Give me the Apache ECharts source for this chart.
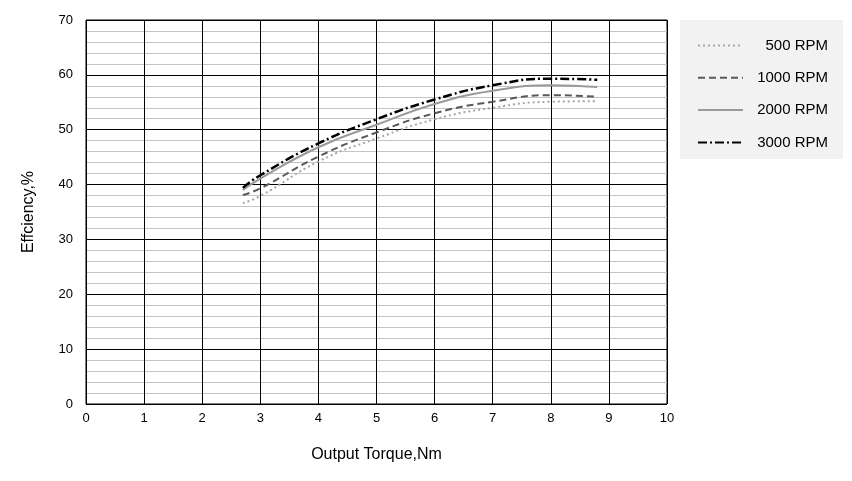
<!DOCTYPE html>
<html><head><meta charset="utf-8">
<script src="https://cdn.jsdelivr.net/npm/echarts@6/dist/echarts.min.js"></script>
<style>html,body{margin:0;padding:0;background:#fff}#c{width:852px;height:481px}</style>
</head><body><div id="c"></div>
<script>
var torque = [2.7, 3, 4, 5, 6, 7, 8, 8.8];
var rpm500 = [36.6, 37.9, 44.2, 48.4, 51.9, 54.0, 55.1, 55.2];
var rpm1000 = [38.1, 39.3, 45.1, 49.5, 53.0, 55.1, 56.3, 56.0];
var rpm2000 = [39.0, 41.1, 46.8, 50.9, 54.7, 57.1, 58.1, 57.8];
var rpm3000 = [39.4, 41.7, 47.5, 51.9, 55.5, 58.1, 59.3, 59.1];
var seriesNames = ['500 RPM', '1000 RPM', '2000 RPM', '3000 RPM'];

function pairs(ys){ return torque.map(function(x,i){ return [x, ys[i]]; }); }

var chart = echarts.init(document.getElementById('c'));
var font = 'Liberation Sans, Arial, sans-serif';
chart.setOption({
  animation: false,
  textStyle: {fontFamily: font},
  grid: {left: 86, top: 20, width: 581, height: 384, show: true, borderColor: '#000', borderWidth: 1},
  legend: {
    orient: 'vertical', left: 680, top: 20,
    backgroundColor: '#f2f2f2', padding: [18, 15, 9, 17],
    itemWidth: 45, itemHeight: 14, itemGap: 17.3,
    itemStyle: {opacity: 0},
    data: seriesNames,
    formatter: function(n){ return '{t|' + n + '}'; },
    textStyle: {fontSize: 15, color: '#000', fontFamily: font,
      rich: {t: {width: 80, align: 'right', fontSize: 15, color: '#000', fontFamily: font}}}
  },
  xAxis: {
    type: 'value', min: 0, max: 10, interval: 1,
    name: 'Output Torque,Nm', nameLocation: 'middle', nameGap: 43,
    nameTextStyle: {fontSize: 16, color: '#000'},
    axisLine: {show: false}, axisTick: {show: false},
    axisLabel: {color: '#000', fontSize: 13, margin: 8},
    splitLine: {show: true, lineStyle: {color: '#000', width: 1}}
  },
  yAxis: {
    type: 'value', min: 0, max: 70, interval: 10,
    name: 'Effciency,%', nameLocation: 'middle', nameGap: 49, nameRotate: 90,
    nameTextStyle: {fontSize: 16, color: '#000'},
    axisLine: {show: false}, axisTick: {show: false},
    axisLabel: {color: '#000', fontSize: 13, margin: 13},
    minorTick: {show: false, splitNumber: 5},
    minorSplitLine: {show: true, lineStyle: {color: '#c4c4c4', width: 1}},
    splitLine: {show: true, lineStyle: {color: '#000', width: 1}}
  },
  series: [
    {name: seriesNames[0], type: 'line', smooth: 0.5, symbol: 'none', data: pairs(rpm500),
     lineStyle: {color: '#a6a6a6', width: 2, type: [2, 3]}, itemStyle: {color: '#a6a6a6'}},
    {name: seriesNames[1], type: 'line', smooth: 0.5, symbol: 'none', data: pairs(rpm1000),
     lineStyle: {color: '#595959', width: 2, type: [7, 4]}, itemStyle: {color: '#595959'}},
    {name: seriesNames[2], type: 'line', smooth: 0.5, symbol: 'none', data: pairs(rpm2000),
     lineStyle: {color: '#9a9a9a', width: 2}, itemStyle: {color: '#9a9a9a'}},
    {name: seriesNames[3], type: 'line', smooth: 0.5, symbol: 'none', data: pairs(rpm3000),
     lineStyle: {color: '#000', width: 2.5, type: [9, 3, 2, 3]}, itemStyle: {color: '#000'}}
  ]
});
</script></body></html>
